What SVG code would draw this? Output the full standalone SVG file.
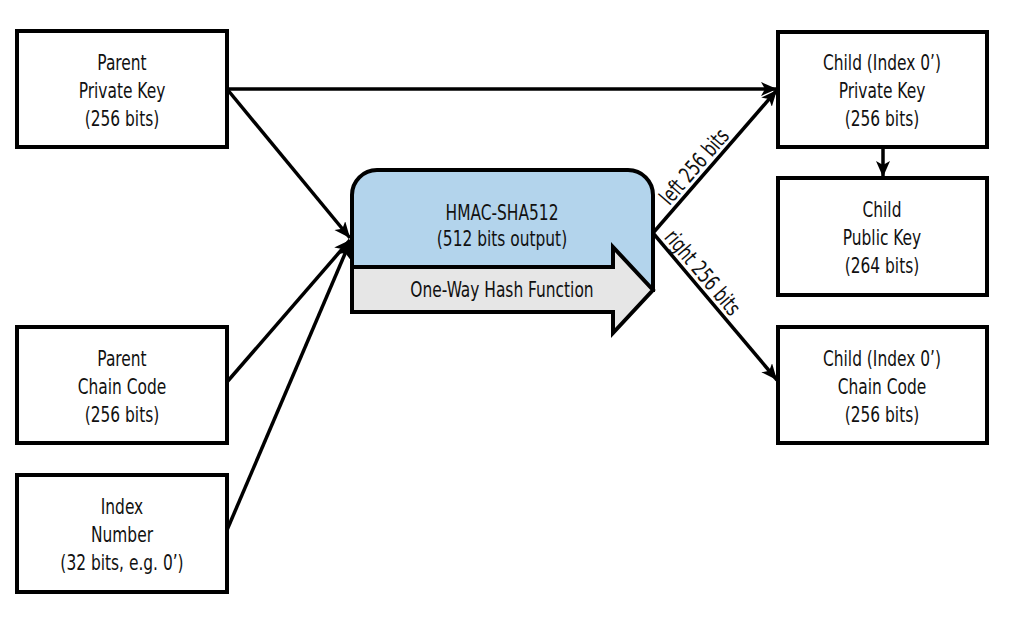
<svg xmlns="http://www.w3.org/2000/svg" width="1031" height="618" viewBox="0 0 1031 618">
<style>
.box{fill:#ffffff;stroke:#000000;stroke-width:4;}
.t{font-family:"Liberation Sans Narrow","DejaVu Sans Condensed","Liberation Sans",sans-serif;font-size:22px;fill:#111111;text-anchor:middle;}
.c{fill:none;stroke:#000000;stroke-width:3.5;}
</style>
<defs>
<marker id="ah" markerUnits="userSpaceOnUse" markerWidth="18" markerHeight="16" refX="16" refY="7" orient="auto" viewBox="0 0 18 16">
<path d="M0,0 L16,7 L0,14 L4,7 Z" fill="#000000"/>
</marker>
</defs>
<rect width="1031" height="618" fill="#ffffff"/>
<g id="connectors">
<line class="c" x1="227" y1="89" x2="777" y2="89" marker-end="url(#ah)"/>
<line class="c" x1="227" y1="89" x2="350" y2="238" marker-end="url(#ah)"/>
<line class="c" x1="227" y1="382" x2="350" y2="240" marker-end="url(#ah)"/>
<line class="c" x1="227" y1="530" x2="350" y2="242" marker-end="url(#ah)"/>
<line class="c" x1="653" y1="233" x2="777" y2="90" marker-end="url(#ah)"/>
<line class="c" x1="653" y1="233" x2="777" y2="380" marker-end="url(#ah)"/>
<line class="c" x1="883" y1="147" x2="883" y2="177" marker-end="url(#ah)"/>
<text class="t" transform="translate(653,233) rotate(-49) scale(0.78,1)" x="99" y="-5">left 256 bits</text>
<text class="t" transform="translate(653,233) rotate(49.8) scale(0.78,1)" x="80" y="-5">right 256 bits</text>
</g>
<g id="parent-private-key">
<rect class="box" x="17" y="31" width="210" height="116"/>
<g transform="matrix(0.78,0,0,1,26.84,0)">
<text class="t" x="122" y="70">Parent</text>
<text class="t" x="122" y="98">Private Key</text>
<text class="t" x="122" y="126">(256 bits)</text>
</g>
</g>
<g id="parent-chain-code">
<rect class="box" x="17" y="327" width="210" height="116"/>
<g transform="matrix(0.78,0,0,1,26.84,0)">
<text class="t" x="122" y="366">Parent</text>
<text class="t" x="122" y="394">Chain Code</text>
<text class="t" x="122" y="422">(256 bits)</text>
</g>
</g>
<g id="index-number">
<rect class="box" x="17" y="475" width="210" height="117"/>
<g transform="matrix(0.78,0,0,1,26.84,0)">
<text class="t" x="122" y="514">Index</text>
<text class="t" x="122" y="542">Number</text>
<text class="t" x="122" y="570">(32 bits, e.g. 0’)</text>
</g>
</g>
<g id="hmac">
<path d="M352,290 L352,195 A25,25 0 0 1 377,170 L628,170 A25,25 0 0 1 653,195 L653,290 Z" fill="#b3d4ec" stroke="#000000" stroke-width="4"/>
<polygon points="352,267 613,267 613,247 653,290 613,333 613,312 352,312" fill="#e6e6e6" stroke="#000000" stroke-width="4" stroke-linejoin="miter"/>
<g transform="matrix(0.78,0,0,1,110.44,0)">
<text class="t" x="502" y="220">HMAC-SHA512</text>
<text class="t" x="502" y="246">(512 bits output)</text>
<text class="t" x="502" y="297">One-Way Hash Function</text>
</g>
</g>
<g id="child-private-key">
<rect class="box" x="778" y="32" width="209" height="115"/>
<g transform="matrix(0.78,0,0,1,194.04,0)">
<text class="t" x="882" y="70">Child (Index 0’)</text>
<text class="t" x="882" y="98">Private Key</text>
<text class="t" x="882" y="126">(256 bits)</text>
</g>
</g>
<g id="child-public-key">
<rect class="box" x="778" y="178" width="209" height="117"/>
<g transform="matrix(0.78,0,0,1,194.04,0)">
<text class="t" x="882" y="217">Child</text>
<text class="t" x="882" y="245">Public Key</text>
<text class="t" x="882" y="273">(264 bits)</text>
</g>
</g>
<g id="child-chain-code">
<rect class="box" x="778" y="327" width="209" height="116"/>
<g transform="matrix(0.78,0,0,1,194.04,0)">
<text class="t" x="882" y="366">Child (Index 0’)</text>
<text class="t" x="882" y="394">Chain Code</text>
<text class="t" x="882" y="422">(256 bits)</text>
</g>
</g>
</svg>
